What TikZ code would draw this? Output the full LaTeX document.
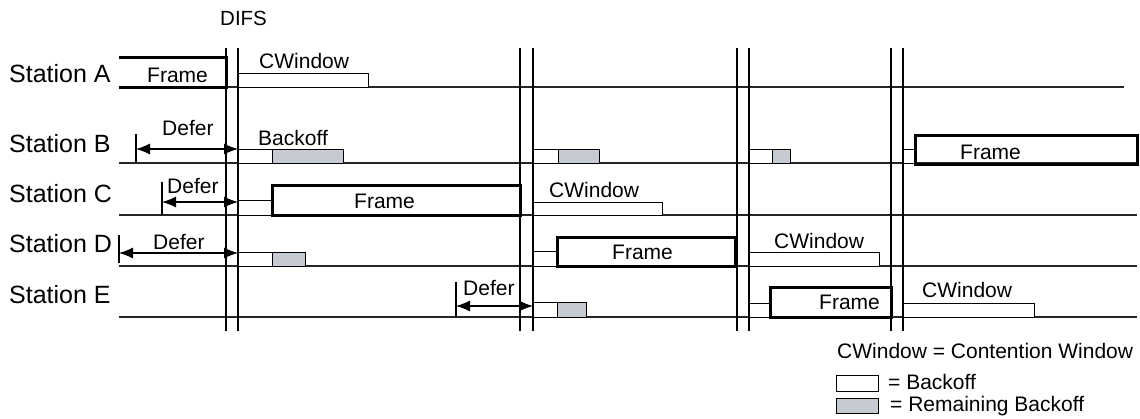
\documentclass[tikz,border=0pt]{standalone}
\usepackage{fontspec}
\setmainfont{Liberation Sans}
\usetikzlibrary{arrows.meta}
\definecolor{rbgray}{RGB}{198,203,210}
\begin{document}
\begin{tikzpicture}[x=1pt,y=-1pt,
  baseln/.style={line width=1.1pt, black!85},
  vline/.style={line width=1.2pt, black},
  bo/.style={draw, line width=0.8pt, fill=white},
  rbo/.style={draw, line width=0.8pt, fill=rbgray},
  frm/.style={draw, line width=3pt, black},
  lbl/.style={anchor=base west, inner sep=0pt, font=\fontsize{21}{24}\selectfont},
  stlbl/.style={anchor=base west, inner sep=0pt, font=\fontsize{25}{28}\selectfont},
  deferarrow/.style={{Latex[length=14pt,width=11pt]}-{Latex[length=14pt,width=11pt]}, line width=1.1pt},
  tickln/.style={line width=1.1pt}]
\useasboundingbox (0,0) rectangle (1140,418);

% station labels
\node[stlbl] (sA) at (9,82) {Station A};
\node[stlbl] (sB) at (9,152) {Station B};
\node[stlbl] (sC) at (9,202) {Station C};
\node[stlbl] (sD) at (9,252) {Station D};
\node[stlbl] (sE) at (9,303) {Station E};
\node[lbl, font=\fontsize{20.5}{24}\selectfont] (difs) at (220,25) {DIFS};

% baselines
\draw[baseln] (119,87) -- (1124,87);
\draw[baseln] (119,163) -- (1137,163);
\draw[baseln] (119,215) -- (1137,215);
\draw[baseln] (119,266) -- (1137,266);
\draw[baseln] (119,317) -- (1137,317);

% backoff / contention windows
\draw[bo] (238,73) rectangle (368,87);
\draw[bo] (238,149) rectangle (272,163);
\draw[rbo] (272,149) rectangle (343,163);
\draw[bo] (238,200) rectangle (272,215);
\draw[bo] (238,252) rectangle (272,266);
\draw[rbo] (272,252) rectangle (305,266);

\draw[bo] (533,149) rectangle (558,163);
\draw[rbo] (558,149) rectangle (599,163);
\draw[bo] (533,202) rectangle (662,215);
\draw[bo] (533,251) rectangle (557,266);
\draw[bo] (533,302) rectangle (557,317);
\draw[rbo] (557,302) rectangle (586,317);

\draw[bo] (749,149) rectangle (772,163);
\draw[rbo] (772,149) rectangle (790,163);
\draw[bo] (749,252) rectangle (879,266);
\draw[bo] (749,303) rectangle (770,317);

\draw[bo] (903,149) rectangle (915,163);
\draw[bo] (903,303) rectangle (1034,317);

% frames
\draw[frm] (119,57) -- (226,57) -- (226,87) -- (119,87);
\draw[frm] (272,185) rectangle (520,215);
\draw[frm] (557,237) rectangle (735,266);
\draw[frm] (770,287) rectangle (891,317);
\draw[frm] (915,135) rectangle (1137,164);

% vertical IFS lines
\foreach \x in {226,238,520,533,737,749,891,903}
  \draw[vline] (\x,48) -- (\x,331);

% defer arrows
\coordinate (dB1) at (136,149); \coordinate (dB2) at (238,149);
\coordinate (dC1) at (162,202); \coordinate (dC2) at (238,202);
\coordinate (dD1) at (119,253); \coordinate (dD2) at (238,253);
\coordinate (dE1) at (456,306); \coordinate (dE2) at (533,306);
\draw[tickln] (136,134) -- (136,163);
\draw[tickln] (162,182) -- (162,215);
\draw[tickln] (119,235) -- (119,263);
\draw[tickln] (456,282) -- (456,317);
\draw[deferarrow] (dB1) -- (dB2);
\draw[deferarrow] (dC1) -- (dC2);
\draw[deferarrow] (dD1) -- (dD2);
\draw[deferarrow] (dE1) -- (dE2);

% labels
\node[lbl] (fA) at (147,82) {Frame};
\node[lbl] (cwA) at (259,68) {CWindow};
\node[lbl] (dfB) at (162,135) {Defer};
\node[lbl] (boB) at (258,145) {Backoff};
\node[lbl] (dfC) at (167,193) {Defer};
\node[lbl] (fC) at (354,208) {Frame};
\node[lbl] (dfD) at (153,249) {Defer};
\node[lbl] (cwC) at (549,197) {CWindow};
\node[lbl] (fD) at (612,259) {Frame};
\node[lbl] (dfE) at (463,295) {Defer};
\node[lbl] (fB) at (960,159) {Frame};
\node[lbl] (cwD) at (774,248) {CWindow};
\node[lbl] (fE) at (819,309) {Frame};
\node[lbl] (cwE) at (922,297) {CWindow};

% legend
\node[lbl] (leg1) at (837,358) {CWindow = Contention Window};
\draw[bo] (836,375) rectangle (878,391);
\node[lbl] (leg2) at (888,389) {= Backoff};
\draw[rbo] (836,398) rectangle (878,413);
\node[lbl] (leg3) at (890,411) {= Remaining Backoff};
\end{tikzpicture}
\end{document}
